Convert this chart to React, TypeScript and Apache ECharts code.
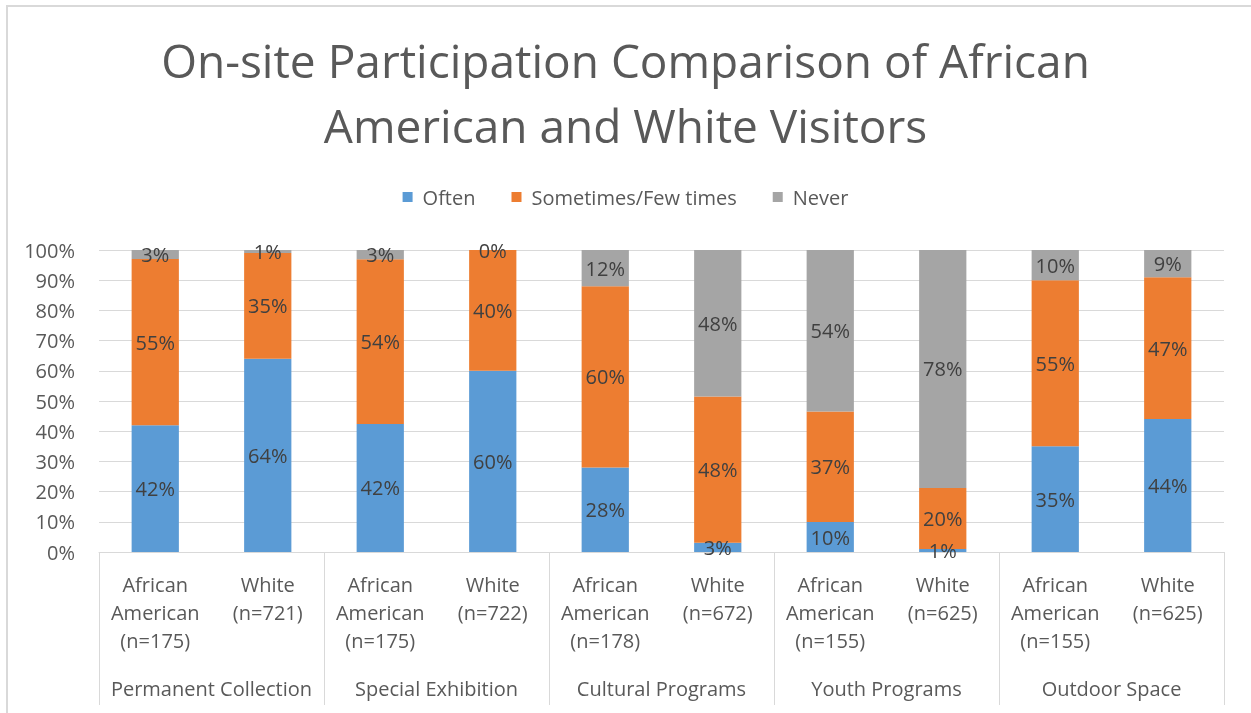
import React, { useEffect, useRef } from "react";
import * as echarts from "echarts";

const subLabels = [
  "African\nAmerican\n(n=175)", "White\n(n=721)",
  "African\nAmerican\n(n=175)", "White\n(n=722)",
  "African\nAmerican\n(n=178)", "White\n(n=672)",
  "African\nAmerican\n(n=155)", "White\n(n=625)",
  "African\nAmerican\n(n=155)", "White\n(n=625)",
];
const groups = ["Permanent Collection", "Special Exhibition", "Cultural Programs", "Youth Programs", "Outdoor Space"];
const often = [42, 64, 42, 60, 28, 3, 10, 1, 35, 44];
const sometimes = [55, 35, 54, 40, 60, 48, 37, 20, 55, 47];
const never = [3, 1, 3, 0, 12, 48, 54, 78, 10, 9];
const seriesNames = ["Often", "Sometimes/Few times", "Never"];
const colors = ["#5b9bd5", "#ed7d31", "#a5a5a5"];
const yTicks = [0, 10, 20, 30, 40, 50, 60, 70, 80, 90, 100];

const FONT = "'Open Sans', 'Noto Sans', sans-serif";

export default function App() {
  const ref = useRef<HTMLDivElement>(null);
  useEffect(() => {
    if (!ref.current) return;
    const chart = echarts.init(ref.current, null, { renderer: "svg" });
    const raw = [often, sometimes, never];
    const totals = often.map((_, i) => often[i] + sometimes[i] + never[i]);
    const series = raw.map((arr, k) => ({
      name: seriesNames[k],
      type: "bar",
      stack: "total",
      barWidth: "42%",
      itemStyle: { color: colors[k] },
      data: arr.map((v, i) => (v / totals[i]) * 100),
      label: {
        show: true,
        position: "inside",
        color: "#404040",
        fontSize: 20,
        fontFamily: FONT,
        formatter: (p: any) => `${arr[p.dataIndex]}%`,
      },
    }));
    chart.setOption({
      animation: false,
      textStyle: { fontFamily: FONT },
      title: {
        text: "On-site Participation Comparison of African\nAmerican and White Visitors",
        left: "center",
        top: 22,
        textStyle: { fontSize: 46, lineHeight: 65, color: "#595959", fontWeight: "normal", fontFamily: FONT },
      },
      legend: {
        top: 182,
        left: "center",
        icon: "rect",
        itemWidth: 10,
        itemHeight: 10,
        itemGap: 36,
        textStyle: { fontSize: 20, color: "#595959", fontFamily: FONT, padding: [0, 0, 0, 5] },
        data: seriesNames,
      },
      grid: { left: 99, right: 27, top: 250, bottom: 161 },
      xAxis: [
        {
          type: "category",
          data: subLabels,
          axisLine: { lineStyle: { color: "#d9d9d9" } },
          axisTick: { show: false },
          axisLabel: { interval: 0, margin: 18, lineHeight: 28, fontSize: 20, color: "#595959", fontFamily: FONT },
        },
        {
          type: "category",
          position: "bottom",
          data: groups,
          axisLine: { show: false },
          axisTick: { show: true, length: 153, interval: 0, lineStyle: { color: "#d9d9d9" } },
          axisLabel: { interval: 0, margin: 126, fontSize: 20, color: "#595959", fontFamily: FONT },
        },
      ],
      yAxis: {
        type: "value",
        min: 0,
        max: 100,
        interval: 10,
        axisLine: { show: false },
        axisTick: { show: false },
        splitLine: { lineStyle: { color: "#d9d9d9" } },
        axisLabel: {
          margin: 24,
          fontSize: 20,
          color: "#595959",
          fontFamily: FONT,
          formatter: (v: number) => (yTicks.includes(v) ? `${v}%` : ""),
        },
      },
      graphic: [
        {
          type: "rect",
          shape: { x: 7, y: 6, width: 1300, height: 760 },
          style: { fill: "none", stroke: "#d9d9d9", lineWidth: 2 },
          silent: true,
        },
      ],
      series,
    });
    return () => chart.dispose();
  }, []);
  return <div ref={ref} style={{ position: "fixed", left: 0, top: 0, width: 1251, height: 713 }} />;
}
